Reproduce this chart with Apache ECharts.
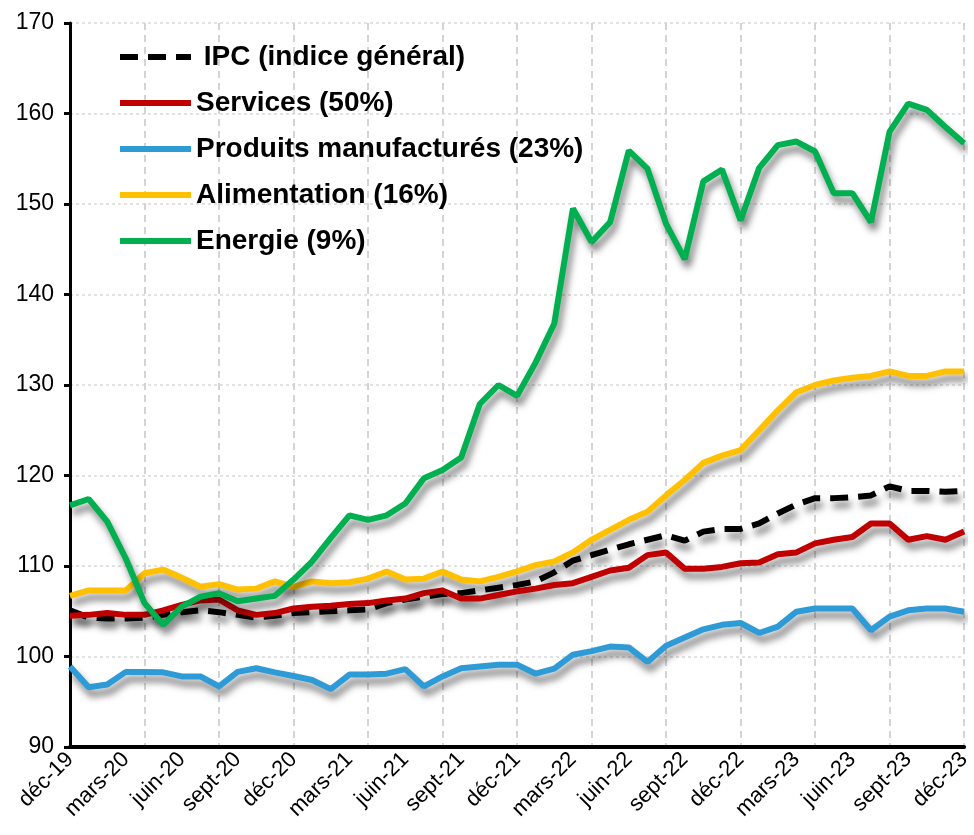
<!DOCTYPE html>
<html>
<head>
<meta charset="utf-8">
<script src="https://cdn.jsdelivr.net/npm/echarts@6/dist/echarts.min.js"></script>
<style>
  html, body { margin: 0; padding: 0; background: #fff; }
  #chart { width: 974px; height: 835px; }
</style>
</head>
<body>
<div id="chart"></div>
<script>
// months déc-19 .. déc-23
const months = [
  "déc-19",
  "janv-20", "févr-20", "mars-20", "avr-20", "mai-20", "juin-20", "juil-20", "août-20", "sept-20", "oct-20", "nov-20", "déc-20",
  "janv-21", "févr-21", "mars-21", "avr-21", "mai-21", "juin-21", "juil-21", "août-21", "sept-21", "oct-21", "nov-21", "déc-21",
  "janv-22", "févr-22", "mars-22", "avr-22", "mai-22", "juin-22", "juil-22", "août-22", "sept-22", "oct-22", "nov-22", "déc-22",
  "janv-23", "févr-23", "mars-23", "avr-23", "mai-23", "juin-23", "juil-23", "août-23", "sept-23", "oct-23", "nov-23", "déc-23"
];

const ipc = [
  105.1, 104.3, 104.2, 104.2, 104.3, 104.6, 104.9, 105.1, 104.9, 104.6, 104.3, 104.5, 104.8,
  104.9, 105.0, 105.1, 105.2, 105.9, 106.3, 106.6, 106.9, 107.0, 107.3, 107.6, 107.9,
  108.3, 109.3, 110.6, 111.2, 111.8, 112.4, 112.9, 113.4, 112.8, 113.8, 114.1, 114.1,
  114.7, 115.8, 116.8, 117.5, 117.5, 117.6, 117.8, 118.8, 118.3, 118.3, 118.2, 118.3
];
const services = [
  104.5, 104.6, 104.8, 104.6, 104.6, 105.1, 105.7, 106.2, 106.3, 105.1, 104.6, 104.8, 105.3,
  105.5, 105.6, 105.8, 105.9, 106.2, 106.4, 107.0, 107.3, 106.4, 106.4, 106.8, 107.2,
  107.5, 107.9, 108.1, 108.8, 109.5, 109.8, 111.2, 111.5, 109.7, 109.7, 109.9, 110.3,
  110.4, 111.3, 111.5, 112.5, 112.9, 113.2, 114.7, 114.7, 112.9, 113.3, 112.9, 113.8
];
const manufactures = [
  98.9, 96.6, 96.9, 98.3, 98.3, 98.25, 97.8, 97.8, 96.7, 98.3, 98.7, 98.25, 97.85,
  97.4, 96.4, 98.0, 98.0, 98.1, 98.6, 96.7, 97.8, 98.7, 98.9, 99.1, 99.1,
  98.1, 98.65, 100.2, 100.6, 101.1, 101.0, 99.4, 101.2, 102.1, 103.0, 103.5, 103.7,
  102.6, 103.3, 104.95, 105.3, 105.3, 105.3, 102.9, 104.4, 105.1, 105.3, 105.3, 104.95
];
const alimentation = [
  106.7, 107.3, 107.3, 107.3, 109.2, 109.6, 108.7, 107.7, 108.0, 107.4, 107.5, 108.3, 107.7,
  108.3, 108.1, 108.2, 108.6, 109.4, 108.5, 108.6, 109.4, 108.5, 108.3, 108.8, 109.4,
  110.1, 110.5, 111.5, 112.9, 114.0, 115.1, 116.0, 117.8, 119.5, 121.4, 122.2, 122.8,
  125.0, 127.2, 129.2, 130.0, 130.5, 130.8, 131.0, 131.5, 131.0, 131.0, 131.5, 131.5
];
const energie = [
  116.7, 117.4, 114.9, 110.8, 105.9, 103.5, 105.5, 106.6, 107.0, 106.1, 106.4, 106.7, 108.5,
  110.5, 113.1, 115.6, 115.1, 115.6, 116.9, 119.7, 120.6, 122.0, 127.9, 130.0, 128.8,
  132.5, 136.8, 149.5, 145.8, 148.0, 155.9, 153.9, 147.8, 143.9, 152.5, 153.8, 148.2,
  154.0, 156.5, 156.9, 155.8, 151.2, 151.2, 148.0, 158.0, 161.1, 160.4, 158.5, 156.7
];

const names = [
  " IPC (indice général)",
  "Services (50%)",
  "Produits manufacturés (23%)",
  "Alimentation (16%)",
  "Energie (9%)"
];
const colors = ["#000000", "#C00000", "#2E9BD6", "#FFC000", "#00B050"];

const font = "'Liberation Sans', Arial, sans-serif";

const chart = echarts.init(document.getElementById("chart"));

const makeSeries = (i, data, dashed) => ({
  name: names[i],
  type: "line",
  data: data,
  symbol: "none",
  showSymbol: false,
  animation: false,
  lineStyle: {
    color: colors[i],
    width: 6,
    type: dashed ? [18, 10] : "solid",
    shadowColor: "rgba(0,0,0,0.5)",
    shadowBlur: 7,
    shadowOffsetX: 3,
    shadowOffsetY: 7,
  },
  itemStyle: { color: colors[i] },
});

chart.setOption({
  animation: false,
  color: colors,
  grid: { left: 70, right: 5, top: 23, bottom: 88 },
  legend: {
    orient: "vertical",
    left: 117,
    top: 43,
    padding: 0,
    itemWidth: 71,
    itemHeight: 28,
    itemGap: 18,
    data: names,
    itemStyle: { opacity: 0 },
    lineStyle: {
      width: 6,
      shadowColor: "rgba(0,0,0,0)",
      shadowBlur: 0,
      shadowOffsetX: 0,
      shadowOffsetY: 0,
    },
    textStyle: {
      fontFamily: font,
      fontSize: 28,
      fontWeight: "bold",
      color: "#000",
    },
  },
  xAxis: {
    type: "category",
    boundaryGap: false,
    data: months,
    axisLine: { lineStyle: { color: "#000", width: 4 } },
    axisTick: { show: false },
    axisLabel: {
      interval: 2,
      rotate: 45,
      margin: 9,
      fontFamily: font,
      fontSize: 22,
      color: "#000",
    },
    splitLine: {
      show: true,
      interval: 3,
      lineStyle: { color: "#d4d4d4", width: 2, type: [7, 5] },
    },
  },
  yAxis: {
    type: "value",
    min: 90,
    max: 170,
    interval: 10,
    axisLine: { show: true, lineStyle: { color: "#000", width: 3 } },
    axisTick: { show: true, length: 6, lineStyle: { color: "#000", width: 3 } },
    axisLabel: {
      margin: 16,
      fontFamily: font,
      fontSize: 23,
      color: "#000",
    },
    splitLine: {
      show: true,
      lineStyle: { color: "#e2e2e2", width: 2, type: [3, 3] },
    },
  },
  series: [
    makeSeries(0, ipc, true),
    makeSeries(1, services),
    makeSeries(2, manufactures),
    makeSeries(3, alimentation),
    makeSeries(4, energie),
  ],
});
</script>
</body>
</html>
